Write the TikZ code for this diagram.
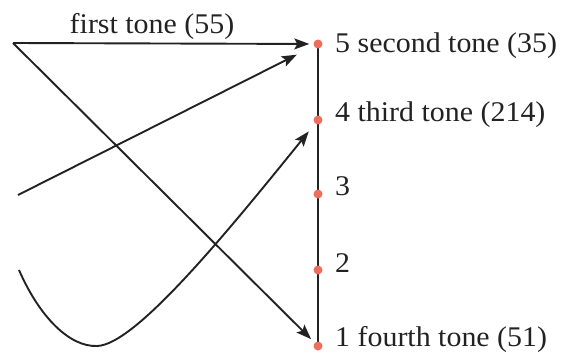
\documentclass[tikz,border=0pt]{standalone}
\usepackage{fontspec}
\setmainfont[FakeStretch=1.05]{Liberation Serif}
\usetikzlibrary{arrows.meta}
\definecolor{dotred}{HTML}{EE6E5E}
\definecolor{ink}{HTML}{222222}
\tikzset{
  pt/.style={circle,fill=dotred,inner sep=0pt,minimum size=9pt},
  lab/.style={anchor=base west,inner sep=0pt,text=ink,font=\fontsize{28.5}{31}\selectfont},
  conn/.style={draw=ink,line width=1.9pt,-{Stealth[length=15pt,width=11pt,inset=3pt]}},
}
\begin{document}
\begin{tikzpicture}[x=1pt,y=-1pt]
\useasboundingbox (0,0) rectangle (576,356);
% scale line
\coordinate (top) at (318,43);
\coordinate (bot) at (318,346);
\draw[ink,line width=1.9pt] (top) -- (bot);
\node[pt] (p5) at (318,44) {};
\node[pt] (p4) at (318,120) {};
\node[pt] (p3) at (318,194) {};
\node[pt] (p2) at (318,270) {};
\node[pt] (p1) at (318,346) {};
% labels
\node[lab] (l5) at (335,52) {5 second tone (35)};
\node[lab] (l4) at (335,121) {4 third tone (214)};
\node[lab] (l3) at (335,195) {3};
\node[lab] (l2) at (335,272) {2};
\node[lab] (l1) at (335,346) {1 fourth tone (51)};
\node[lab,anchor=base] (l0) at (152,33) {first tone (55)};
% tone contours
\coordinate (a) at (13,43);
\coordinate (b) at (18,195);
\coordinate (c) at (19,270);
\coordinate (cm) at (97,346);
\draw[conn,shorten >=4pt] (a) -- (p5);
\draw[conn,shorten >=19pt] (b) -- (p5);
\draw[conn,shorten >=5pt] (a) -- (p1);
\draw[conn,shorten >=10pt] (c) .. controls (40,318) and (70,347) .. (cm)
  .. controls (135,345) and (225,235) .. (p4);
\end{tikzpicture}
\end{document}
